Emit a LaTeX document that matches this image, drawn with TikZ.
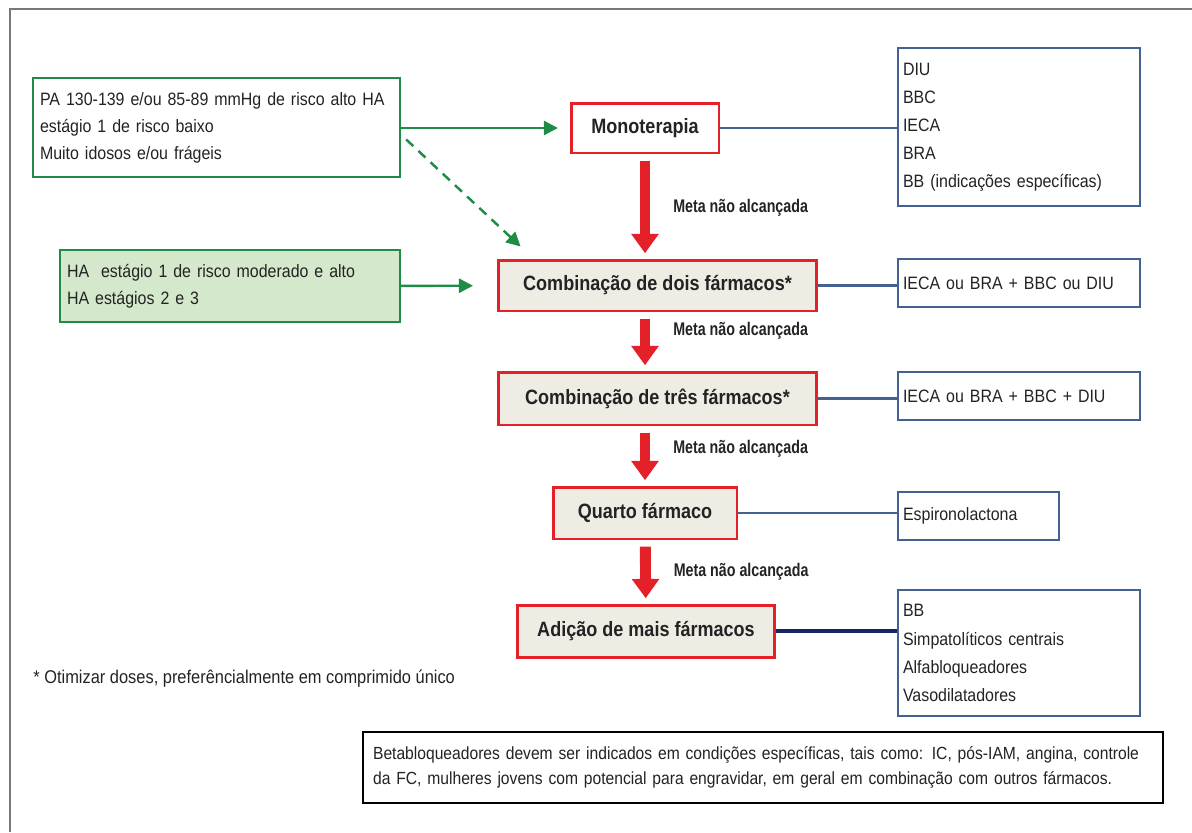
\documentclass[tikz,border=0pt]{standalone}
\usepackage{fontspec}
\setmainfont{Liberation Sans}[FakeStretch=0.89]
\newfontfamily\stepfont{Liberation Sans}[FakeStretch=0.87]
\newfontfamily\metafont{Liberation Sans}[FakeStretch=0.78]
\usetikzlibrary{arrows.meta}

\definecolor{textgray}{RGB}{35,35,35}
\definecolor{framegray}{RGB}{120,120,120}
\definecolor{greenline}{RGB}{30,140,70}
\definecolor{greenfill}{RGB}{212,232,204}
\definecolor{redline}{RGB}{228,32,40}
\definecolor{beigefill}{RGB}{239,236,228}
\definecolor{blueline}{RGB}{68,98,145}
\definecolor{navyline}{RGB}{25,35,95}

\begin{document}
\begin{tikzpicture}[x=0.02cm,y=-0.02cm]
  \def\WIDTH{1192}
  \def\HEIGHT{832}
  \def\FRAME{10}
  \def\XSTEP{645}
  \def\XTWO{657.5}
  \def\XDRUG{1019}

  \tikzset{
      inbox/.style={draw=greenline,line width=1.4pt,fill=white,align=left,
        text=textgray,inner xsep=0.14cm,font=\fontsize{10.2}{15.3}\selectfont},
      stepbox/.style={draw=redline,line width=1.7pt,fill=beigefill,
        text=textgray,font=\stepfont\bfseries\fontsize{11.8}{14}\selectfont},
      drugbox/.style={draw=blueline,line width=1.1pt,fill=white,align=left,
        text=textgray,inner xsep=0.1cm,font=\fontsize{10.2}{16}\selectfont},
      goal/.style={-{Triangle[length=11pt,width=15pt]},line width=6.2pt,
        draw=redline,shorten <=3.5pt,shorten >=3pt},
      meta/.style={right=13pt,inner sep=0,text=textgray,
        font=\metafont\bfseries\fontsize{10.4}{12}\selectfont},
      feed/.style={-{Triangle[length=8pt,width=8pt]},line width=1.4pt,
        draw=greenline},
      link/.style={draw=blueline,line width=1.3pt},
  }

  \useasboundingbox (0,0) rectangle (\WIDTH,\HEIGHT);
  \draw [framegray,line width=1.3pt] (\FRAME,\HEIGHT) -- (\FRAME,9) -- (\WIDTH,9);

  % entry groups
  \node [inbox,minimum width=7.34cm,minimum height=1.98cm,text width=7.06cm]
    (risk1) at (216.5,127.5)
    {PA 130-139 e/ou 85-89 mmHg de risco alto HA\\
     estágio 1 de risco baixo\\
     Muito idosos e/ou frágeis\\[4pt]};
  \node [inbox,fill=greenfill,minimum width=6.8cm,minimum height=1.44cm,
    text width=6.52cm] (risk2) at (230,286)
    {HA\ \ estágio 1 de risco moderado e alto\\
     HA estágios 2 e 3};

  % treatment steps
  \node [stepbox,fill=white,minimum width=2.96cm,minimum height=1cm]
    (mono) at (\XSTEP,128) {Monoterapia};
  \node [stepbox,minimum width=6.38cm,minimum height=1.02cm]
    (dual) at (\XTWO,285.5) {Combinação de dois fármacos*};
  \node [stepbox,minimum width=6.38cm,minimum height=1.06cm]
    (triple) at (\XTWO,398.5) {Combinação de três fármacos*};
  \node [stepbox,minimum width=3.68cm,minimum height=1.04cm]
    (fourth) at (\XSTEP,513) {Quarto fármaco};
  \node [stepbox,minimum width=5.16cm,minimum height=1.04cm]
    (more) at (646,631) {Adição de mais fármacos};

  % drug classes
  \node [drugbox,minimum height=3.16cm,text width=4.64cm] (drug1) at (\XDRUG,127)
    {DIU\\ BBC\\ IECA\\ BRA\\ BB (indicações específicas)};
  \node [drugbox,minimum height=0.96cm,text width=4.64cm] (drug2) at (\XDRUG,283)
    {IECA ou BRA + BBC ou DIU};
  \node [drugbox,minimum height=0.96cm,text width=4.64cm] (drug3) at (\XDRUG,396)
    {IECA ou BRA + BBC + DIU};
  \node [drugbox,minimum height=0.96cm,text width=3.02cm] (drug4) at (978.5,516)
    {Espironolactona};
  \node [drugbox,minimum height=2.52cm,text width=4.64cm] (drug5) at (\XDRUG,653)
    {BB\\ Simpatolíticos centrais\\ Alfabloqueadores\\ Vasodilatadores};

  \node [anchor=west,inner sep=0,text=textgray,font=\fontsize{10.5}{12}\selectfont]
    (note) at (33,679) {* Otimizar doses, preferêncialmente em comprimido único};
  \node [draw=black,line width=1.6pt,fill=white,align=left,text=textgray,
    inner xsep=0.2cm,text width=15.6cm,minimum height=1.42cm,
    font=\fontsize{10}{14.5}\selectfont] (beta) at (763,767.5)
    {\mbox{Betabloqueadores devem ser indicados em condições específicas, tais como: IC, pós-IAM, angina, controle}\\
     \mbox{da FC, mulheres jovens com potencial para engravidar, em geral em combinação com outros fármacos.}};

  \draw [feed,shorten >=6.6pt] (risk1.east |- mono) -- (mono);
  \draw [feed,shorten >=13.4pt] (risk2) -- (dual);
  \draw [feed,dash pattern=on 5.5pt off 4pt]
    ([shift={(5,12)}]risk1.east) -- ([shift={(24,-12)}]dual.north west);

  \draw [goal] (mono) -- (mono |- dual.north)
    node [meta,pos=0.51] {Meta não alcançada};
  \draw [goal] (mono |- dual.south) -- (mono |- triple.north)
    node [meta,pos=0.31] {Meta não alcançada};
  \draw [goal] (triple.south -| fourth) -- (fourth)
    node [meta,pos=0.37] {Meta não alcançada};
  \draw [goal] (fourth) -- (more)
    node [meta,midway] {Meta não alcançada};

  \draw [link] (mono) -- (mono -| drug1.west);
  \draw [link] (dual) -- (dual -| drug2.west);
  \draw [link] (triple) -- (triple -| drug3.west);
  \draw [link] (fourth) -- (fourth -| drug4.west);
  \draw [link,draw=navyline,line width=1.8pt] (more) -- (more -| drug5.west);
\end{tikzpicture}
\end{document}
